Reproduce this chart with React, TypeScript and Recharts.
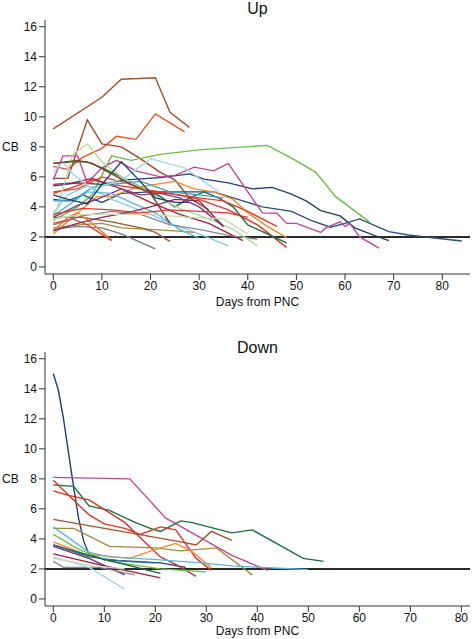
import React from "react";
import { LineChart, Line, XAxis, YAxis, ReferenceLine } from "recharts";

// [day, CB] pairs
const dayTicks = [0, 10, 20, 30, 40, 50, 60, 70, 80];
const cbTicks = [0, 2, 4, 6, 8, 10, 12, 14, 16];
const cutoff = 2;

// ---- Up panel ----
const up01 = [[0, 9.2], [10, 11.3], [14, 12.5], [21, 12.6], [24, 10.3], [28, 9.3]];
const up02 = [[0, 6.7], [3, 6.5], [6, 7.3], [10, 7.9], [13, 8.7], [17, 8.5], [21, 10.2], [27, 9.0]];
const up03 = [[0, 5.9], [3, 5.9], [7, 9.8], [10, 8.2], [14, 8.0], [18, 7.2], [22, 6.3], [25, 5.8], [28, 4.6], [32, 3.8]];
const up04 = [[0, 3.1], [5, 4.0], [8, 4.8], [12, 7.4], [16, 7.1], [22, 7.5], [30, 7.8], [44, 8.1], [49, 7.25], [54, 6.3], [58, 4.7], [65, 3.0]];
const up05 = [[0, 5.4], [5, 5.6], [10, 5.5], [15, 5.8], [22, 5.95], [28, 6.2], [31, 5.85], [36, 5.6], [41, 5.2], [45, 5.3], [49, 4.85], [52, 4.4], [55, 3.75], [59, 3.4], [62, 2.6], [66, 2.1], [69, 1.75]];
const up06 = [[0, 4.5], [3, 4.4], [6, 4.8], [10, 4.3], [14, 4.9], [20, 5.0], [27, 5.0], [33, 5.0], [38, 4.5], [43, 4.0], [49, 3.7], [53, 3.1], [57, 2.65], [60, 2.9], [63, 3.2], [69, 2.35], [73, 2.13], [77, 1.98], [84, 1.73]];
const up07 = [[0, 5.8], [2, 7.4], [5, 7.4], [7, 5.6], [10, 6.6], [13, 7.1], [17, 6.4], [22, 6.0], [25, 6.1], [29, 6.65], [33, 6.4], [36, 6.9], [40, 5.0], [43, 3.6], [46, 3.58], [48, 2.9], [50, 2.9], [55, 2.3], [56, 2.6], [59, 3.0], [60, 2.7], [61, 2.9], [63, 2.0], [67, 1.25]];
const up08 = [[0, 2.2], [5, 3.6], [9, 4.7], [12, 4.7], [17, 5.3], [25, 5.7], [29, 5.2], [33, 5.0], [37, 4.5], [40, 3.6], [44, 2.7], [48, 1.95]];
const up09 = [[0, 4.9], [4, 5.3], [8, 5.8], [12, 5.5], [18, 5.2], [24, 4.9], [30, 4.5], [36, 3.8], [42, 2.8], [48, 1.3]];
const up10 = [[0, 6.9], [4, 7.0], [7, 7.0], [10, 6.6], [14, 6.0], [18, 5.3], [22, 4.7], [25, 4.0], [28, 4.6], [31, 5.0], [34, 4.6], [37, 4.0], [40, 2.8], [44, 2.2], [48, 1.6]];
const up11 = [[0, 5.0], [5, 5.2], [10, 6.0], [15, 5.6], [20, 5.0], [26, 4.8], [30, 4.6], [35, 4.4], [40, 3.7], [46, 2.7]];
const up12 = [[0, 5.5], [4, 5.6], [8, 5.9], [14, 5.2], [20, 4.3], [26, 3.5], [32, 2.9], [39, 1.75]];
const up13 = [[0, 3.6], [3, 4.8], [7, 5.4], [12, 4.5], [16, 4.0], [20, 3.5], [24, 2.9], [30, 2.2], [36, 1.4]];
const up14 = [[0, 2.8], [6, 3.4], [12, 3.7], [18, 3.5], [24, 2.8], [30, 2.5], [36, 2.1], [42, 1.85]];
const up15 = [[0, 3.0], [4, 7.5], [7, 8.2], [10, 7.0], [14, 6.0], [20, 4.9], [26, 3.9], [32, 3.2], [37, 2.5], [42, 1.4]];
const up16 = [[0, 3.3], [5, 4.1], [9, 4.5], [14, 5.2], [18, 4.8], [22, 4.9], [26, 4.6], [30, 4.0], [35, 2.7]];
const up17 = [[0, 2.6], [5, 2.8], [10, 2.9], [14, 2.6], [20, 2.5], [25, 2.4], [29, 2.3]];
const up18 = [[0, 3.3], [6, 3.3], [12, 3.0], [18, 2.6], [21, 2.3], [24, 1.7]];
const up19 = [[0, 2.5], [5, 2.7], [10, 2.6], [14, 2.2], [21, 1.2]];
const up20 = [[0, 2.4], [3, 3.3], [5, 3.6], [8, 2.9], [12, 1.8]];
const up21 = [[0, 2.9], [4, 3.2], [7, 2.8], [12, 1.75]];
const up22 = [[0, 3.4], [7, 5.0], [12, 4.9], [16, 4.3], [21, 3.6], [26, 2.5], [30, 1.9]];
const up23 = [[0, 4.4], [4, 4.4], [8, 5.3], [12, 5.5], [18, 5.7], [24, 5.0], [30, 4.8], [35, 4.6]];
const up24 = [[0, 6.3], [2, 7.0], [4, 6.2], [8, 5.2], [12, 5.6], [15, 6.0], [20, 7.2], [27, 6.6], [30, 5.9], [34, 5.0]];
const up25 = [[0, 4.8], [3, 4.5], [7, 4.2], [10, 5.5], [14, 7.0], [17, 6.0], [21, 4.6], [25, 4.3], [28, 4.3]];
const up26 = [[0, 6.9], [5, 7.1], [8, 6.9], [12, 6.2], [16, 5.5], [20, 4.9], [24, 2.9]];
const up27 = [[0, 2.4], [5, 2.9], [10, 3.3], [15, 3.6], [20, 4.0], [25, 4.5], [30, 4.4], [35, 2.7]];
const up28 = [[0, 3.5], [6, 3.9], [12, 3.8], [18, 3.6], [24, 3.8], [30, 3.7], [36, 3.6], [40, 3.3]];
const up29 = [[0, 3.2], [6, 3.5], [12, 3.5], [20, 3.5], [28, 3.3], [35, 3.2], [40, 2.2]];

const upLines = [up01, up02, up03, up04, up05, up06, up07, up08, up09, up10, up11, up12, up13, up14, up15, up16, up17, up18, up19, up20, up21, up22, up23, up24, up25, up26, up27, up28, up29];
const upColors = [
  "#a4522c", "#ea5123", "#9c4a26", "#6cbf45", "#1f3f6e", "#2a4f78", "#c1479a", "#f58a2a", "#e3342a", "#1c6e3d",
  "#e0402e", "#a3213f", "#86cde6", "#7f8b90", "#b3dc95", "#7b3a8c", "#a5873e", "#9a5a30", "#6f7f86", "#f07c22",
  "#e2452b", "#5ab8d8", "#3aa0bf", "#a9d7ea", "#1f3f6e", "#7a3f22", "#8e2a5a", "#d63a2c", "#c9dcb0",
];

// ---- Down panel ----
const dn01 = [[0, 15], [1, 13.9], [2, 12], [3, 9.7], [4, 7.4], [5, 5.3], [6, 3.8], [7, 3.0], [10, 2.6], [16, 2.5], [21, 2.4], [26, 2.1]];
const dn02 = [[0, 8.1], [15, 8.0], [22, 5.4], [35, 2.9], [42, 1.9]];
const dn03 = [[0, 7.6], [4, 7.5], [7, 6.2], [11, 5.9], [16, 5.1], [19, 4.7], [21, 4.5], [25, 5.2], [27, 5.1], [35, 4.4], [39, 4.6], [49, 2.7], [53, 2.5]];
const dn04 = [[0, 7.9], [3, 6.9], [7, 5.6], [10, 5.0], [14, 4.7], [17, 4.3], [21, 4.8], [24, 4.6], [28, 2.7], [31, 1.9]];
const dn05 = [[0, 7.2], [3, 6.9], [7, 6.6], [14, 5.1], [17, 4.1], [21, 2.8], [24, 2.3], [28, 1.5]];
const dn06 = [[0, 5.3], [10, 4.7], [20, 4.1], [25, 3.8], [28, 3.6], [31, 4.5], [35, 3.9]];
const dn07 = [[0, 4.7], [4, 4.7], [11, 3.5], [20, 3.4], [25, 3.2], [32, 3.4], [39, 1.6]];
const dn08 = [[0, 3.8], [6, 3.0], [15, 2.7], [20, 3.3], [24, 3.7], [27, 3.2], [31, 2.1]];
const dn09 = [[0, 4.8], [7, 3.1], [11, 2.8], [21, 2.6], [29, 2.4], [35, 2.2], [50, 1.95]];
const dn10 = [[0, 4.3], [5, 3.3], [11, 2.5], [21, 2.0], [30, 1.8]];
const dn11 = [[0, 3.6], [7, 2.9], [14, 2.3], [21, 1.7]];
const dn12 = [[0, 3.5], [7, 2.7], [14, 1.6]];
const dn13 = [[0, 3.0], [10, 2.2], [21, 1.4]];
const dn14 = [[0, 2.5], [2, 2.1], [9, 2.1], [16, 1.6]];
const dn15 = [[0, 2.8], [7, 2.1], [14, 0.65]];
const dn16 = [[0, 2.7], [8, 2.2], [14, 2.0]];
const dn17 = [[0, 3.6], [7, 2.8], [14, 2.5], [20, 2.4]];

const dnLines = [dn01, dn02, dn03, dn04, dn05, dn06, dn07, dn08, dn09, dn10, dn11, dn12, dn13, dn14, dn15, dn16, dn17];
const dnColors = [
  "#1f3f6e", "#c1479a", "#1c6e3d", "#e3342a", "#d9302a", "#a4522c", "#a5873e", "#f58a2a", "#5ab8d8",
  "#6cbf45", "#1c5e3a", "#6b2f7f", "#99203e", "#7f8b90", "#a9d7ea", "#c9dcb0", "#2d6f8f",
];

const font = "'Liberation Sans', Arial, sans-serif";
const axisColor = "#333";

const toPts = (arr: number[][]) => arr.map(([d, v]) => ({ d, v }));

function Panel({ title, lines, colors, xDomain, height, marginTop, xAxisHeight, labelOffset, titleTop }: any) {
  return (
    <div style={{ position: "relative", width: 472, height }}>
      <div style={{ position: "absolute", left: 45, width: 425, top: titleTop, textAlign: "center", fontFamily: font, fontSize: 16, lineHeight: "16px", color: "#111" }}>
        {title}
      </div>
      <LineChart width={472} height={height} margin={{ top: marginTop, right: 2, left: 0, bottom: 0 }}>
        <XAxis
          type="number"
          dataKey="d"
          domain={xDomain}
          allowDataOverflow
          ticks={dayTicks}
          height={xAxisHeight}
          tickSize={6}
          tickMargin={1}
          stroke={axisColor}
          tick={{ fill: "#111", fontSize: 12, fontFamily: font }}
          label={{ value: "Days from PNC", position: "insideBottom", offset: labelOffset, fill: "#111", fontSize: 12, fontFamily: font }}
        />
        <YAxis
          type="number"
          dataKey="v"
          domain={[-0.47, 16.45]}
          allowDataOverflow
          ticks={cbTicks}
          width={45}
          tickSize={6}
          stroke={axisColor}
          tick={{ fill: "#111", fontSize: 12, fontFamily: font }}
          label={{ value: "CB", position: "insideLeft", offset: 2, fill: "#111", fontSize: 12, fontFamily: font }}
        />
        <ReferenceLine y={cutoff} stroke="#2a2a2a" strokeWidth={2} />
        {lines.map((pts: number[][], i: number) => (
          <Line
            key={i}
            data={toPts(pts)}
            dataKey="v"
            type="linear"
            stroke={colors[i % colors.length]}
            strokeWidth={1.4}
            dot={false}
            activeDot={false}
            isAnimationActive={false}
          />
        ))}
      </LineChart>
    </div>
  );
}

export default function App() {
  return (
    <div style={{ position: "absolute", left: 0, top: 0, width: 472, height: 639, background: "#fff" }}>
      <Panel title="Up" lines={upLines} colors={upColors} xDomain={[-1.7, 85.7]} height={320} marginTop={20} xAxisHeight={46} labelOffset={14} titleTop={1} />
      <Panel title="Down" lines={dnLines} colors={dnColors} xDomain={[-1.63, 81.7]} height={319} marginTop={32} xAxisHeight={33} labelOffset={4} titleTop={20} />
    </div>
  );
}
